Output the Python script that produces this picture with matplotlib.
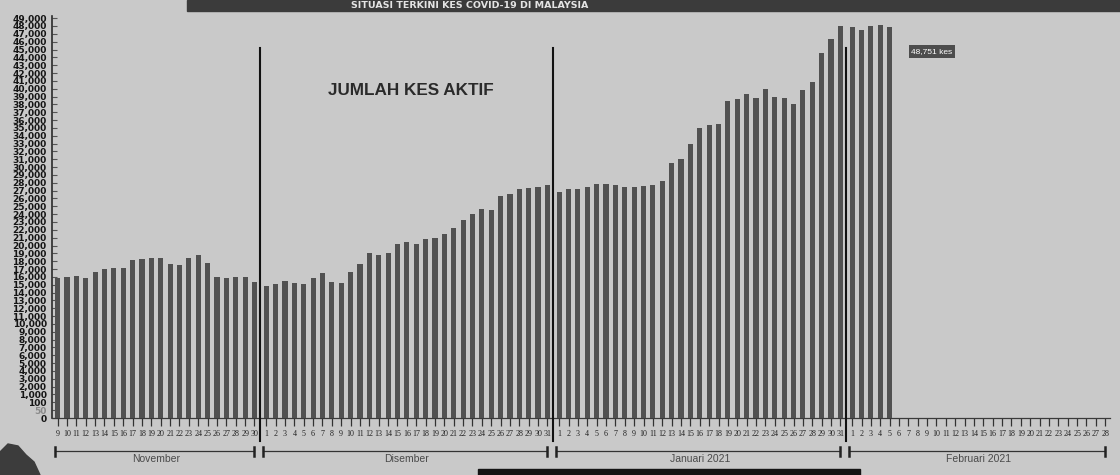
"""Jumlah kes aktif COVID-19 di Malaysia (Nov 2020 - Feb 2021)"""

import matplotlib
matplotlib.use("Agg")
import matplotlib.pyplot as plt
import numpy as np
from matplotlib.patches import Polygon, Rectangle

# ---- data (bar values) ----
nov_days = list(range(9, 31))
nov_vals = [15850, 16040, 16160, 15910, 16600, 16980, 17150, 17170, 18090, 18220,
            18440, 18410, 17630, 17510, 18380, 18850, 17720, 16000, 15870, 15940,
            15970, 15290]
dec_days = list(range(1, 32))
dec_vals = [14850, 15130, 15460, 15220, 15030, 15860, 16440, 15390, 15200, 16590,
            17630, 19050, 18820, 19020, 20190, 20420, 20140, 20770, 21000, 21490,
            22270, 23200, 24070, 24680, 24570, 26350, 26620, 27190, 27340, 27420,
            27730]
jan_days = list(range(1, 32))
jan_vals = [26790, 27240, 27180, 27400, 27860, 27880, 27690, 27450, 27520, 27630,
            27740, 28270, 30470, 31040, 32970, 34970, 35370, 35550, 38380, 38740,
            39280, 38870, 40000, 39000, 38810, 38030, 39830, 40870, 44510, 46280,
            48050]
feb_days = list(range(1, 29))
feb_vals = [47910, 47510, 47950, 48110, 47920]

months = ["November", "Disember", "Januari 2021", "Februari 2021"]
y_ticks = [0, 50, 100] + list(range(1000, 49001, 1000))
latest_label = "48,751 kes"

BG = "#c9c9c9"
BAR = "#515151"
GAP = 0.25  # extra space between months, in day slots


def fwd(v):
    v = np.asarray(v, dtype=float)
    return np.where(v >= 1000, v / 1000 + 2, np.interp(v, [0, 50, 100, 1000], [0, 1, 2, 3]))


def inv(u):
    u = np.asarray(u, dtype=float)
    return np.where(u >= 3, (u - 2) * 1000, np.interp(u, [0, 1, 2, 3], [0, 50, 100, 1000]))


fig = plt.figure(figsize=(11.2, 4.75), dpi=100, facecolor=BG)
ax = fig.add_axes([52 / 1120, 57 / 475, 1058.4 / 1120, 402.2 / 475])
ax.set_facecolor(BG)
ax.set_yscale("function", functions=(fwd, inv))

# x positions for every day slot, month by month
all_days = [nov_days, dec_days, jan_days, feb_days]
all_vals = [nov_vals, dec_vals, jan_vals, feb_vals]
positions = []
start = 0.0
for days in all_days:
    positions.append(start + np.arange(len(days)))
    start += len(days) + GAP

for pos, vals in zip(positions, all_vals):
    ax.bar(pos[:len(vals)], vals, width=0.55, color=BAR, zorder=3)

ax.set_xlim(-0.6, 112.3)
ax.set_ylim(0, 49300)

# y axis
ax.set_yticks(y_ticks)
ax.set_yticklabels([f"{v:,}" for v in y_ticks])
ax.tick_params(axis="y", direction="in", length=3.6, width=0.8, color="#555555",
               pad=3.8, labelsize=6.5, labelcolor="#151515")
for lbl in ax.get_yticklabels():
    lbl.set_fontweight("bold")
    lbl.set_family("DejaVu Sans")
ax.get_yticklabels()[1].set_color("#8a8a8a")

# x axis: one tick per day
xt = np.concatenate(positions)
ax.set_xticks(xt)
ax.set_xticklabels([str(d) for days in all_days for d in days])
ax.tick_params(axis="x", direction="out", length=6, width=0.9, color="#333333",
               pad=3.0, labelsize=5.8, labelcolor="#202020")
for lbl in ax.get_xticklabels():
    lbl.set_family("Liberation Serif")

for side in ["top", "right"]:
    ax.spines[side].set_visible(False)
ax.spines["left"].set_color("#2a2a2a")
ax.spines["left"].set_linewidth(1.2)
ax.spines["bottom"].set_color("#3a3a3a")
ax.spines["bottom"].set_linewidth(0.9)

# month separators
top_frac = float(fwd(45200) / fwd(49300))
for a, b in zip(positions[:-1], positions[1:]):
    xs = (a[-1] + b[0]) / 2
    ax.axvline(xs, ymin=-0.058, ymax=top_frac, color="#111111", lw=1.5,
               clip_on=False, zorder=4)

# month brackets and names under the axis
trans = ax.get_xaxis_transform()
yb = -33 / 402.2
for pos, name in zip(positions, months):
    x0, x1 = pos[0] - 0.3, pos[-1] - 0.05
    ax.plot([x0, x1], [yb, yb], color="#333333", lw=0.9, transform=trans, clip_on=False)
    for xc in (x0, x1):
        ax.plot([xc, xc], [yb + 4.5 / 402.2, yb - 4.5 / 402.2], color="#222222",
                lw=1.8, transform=trans, clip_on=False)
    ax.text((pos[0] + pos[-1]) / 2, -41 / 402.2, name, transform=trans, ha="center",
            va="center", fontsize=7.5, color="#4a4a4a", family="Liberation Sans")

ax.text(0.261, 0.8155, "JUMLAH KES AKTIF", transform=ax.transAxes, ha="left",
        va="center", fontsize=12.3, fontweight="bold", color="#2a2a2a",
        family="Liberation Sans")

fig.text(932 / 1120, 1 - 51.5 / 475, latest_label, ha="center", va="center",
         fontsize=6, color="white", family="Liberation Sans",
         bbox=dict(boxstyle="square,pad=0.35", fc="#4d4d4d", ec="none"))

# page furniture: title band, bottom bar, map fragment
fig.add_artist(Rectangle((187 / 1120, 1 - 11 / 475), 1 - 187 / 1120, 11 / 475,
                         transform=fig.transFigure, color="#3b3b3b", zorder=1))
fig.text(470 / 1120, 1 - 5.5 / 475, "SITUASI TERKINI KES COVID-19 DI MALAYSIA",
         ha="center", va="center", fontsize=6.8, fontweight="bold",
         color="#e4e4e4", family="DejaVu Sans", zorder=2)
fig.add_artist(Rectangle((478 / 1120, 0), (860 - 478) / 1120, 6 / 475,
                         transform=fig.transFigure, color="#141414", zorder=1))
blob = [(0, 475), (0, 452), (8, 444), (18, 446), (26, 455), (34, 462), (40, 475)]
fig.add_artist(Polygon([(x / 1120, 1 - y / 475) for x, y in blob],
                       transform=fig.transFigure, color="#3c3c3c", zorder=1))

fig.savefig("out.png", dpi=100, facecolor=BG)
plt.close(fig)
